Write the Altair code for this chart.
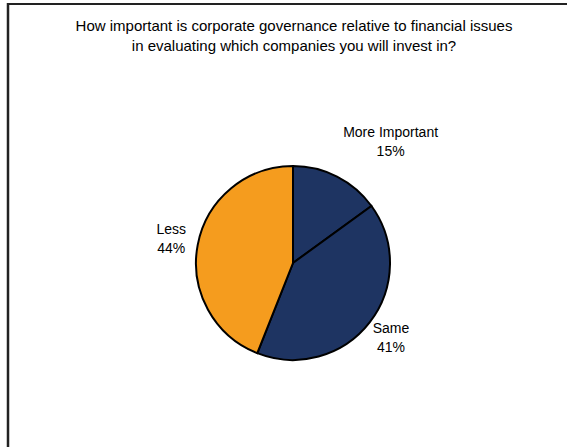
import altair as alt
import pandas as pd

categories = ["More Important", "Same", "Less"]
values = [15, 41, 44]
colors = ["#1E3462", "#1E3462", "#F59C1E"]
title_lines = [
    "How important is corporate governance relative to financial issues",
    "in evaluating which companies you will invest in?",
]

df = pd.DataFrame({"cat": categories, "value": values, "order": [0, 1, 2]})
one = pd.DataFrame({"k": [0]})

FONT = "Liberation Sans"
CX, CY = 285, 259  # pie centre inside the view

base = alt.Chart(df)

arcs = base.mark_arc(outerRadius=97, stroke="black", strokeWidth=2).encode(
    x=alt.value(CX),
    y=alt.value(CY),
    theta=alt.Theta("value:Q", stack=True),
    color=alt.Color("cat:N", scale=alt.Scale(domain=categories, range=colors), legend=None),
    order=alt.Order("order:Q"),
)

labels = (
    base.transform_window(cum="sum(value)", sort=[alt.SortField("order")])
    .transform_joinaggregate(total="sum(value)")
    .transform_calculate(
        ang="(datum.cum - datum.value/2) / datum.total * 2 * PI + (datum.cat == 'More Important' ? 0.21 : 0)",
        rad="datum.cat == 'More Important' ? 155 : 124",
        label="datum.cat + '\\n' + datum.value + '%'",
    )
    .mark_text(font=FONT, fontSize=14, lineBreak="\n", lineHeight=19, color="black",
               baseline="middle", align="center", dy=-10)
    .encode(
        x=alt.value(CX),
        y=alt.value(CY),
        theta=alt.Theta("ang:Q", scale=None),
        radius=alt.Radius("rad:Q", scale=None),
        text="label:N",
    )
)

frame = alt.Chart(one)
top_line = frame.mark_rule(color="#222222", strokeWidth=2).encode(
    x=alt.value(-1), x2=alt.value(560), y=alt.value(0)
)
left_line = frame.mark_rule(color="#222222", strokeWidth=2.5).encode(
    x=alt.value(0), y=alt.value(-1), y2=alt.value(444)
)

title = frame.mark_text(
    font=FONT, fontSize=15, fontWeight="normal", lineBreak="\n", lineHeight=20,
    color="black", align="center", baseline="middle"
).encode(
    x=alt.value(286),
    y=alt.value(22),
    text=alt.value("\n".join(title_lines)),
)

chart = (
    alt.layer(arcs, labels, top_line, left_line, title)
    .properties(
        width=559,
        height=443,
        padding={"left": 8, "top": 4, "right": 0, "bottom": 0},
        autosize=alt.AutoSizeParams(type="none"),
    )
    .configure_view(stroke=None)
    .configure(background="white")
)

chart.save("out.html", embed_options={"renderer": "svg", "actions": False})
